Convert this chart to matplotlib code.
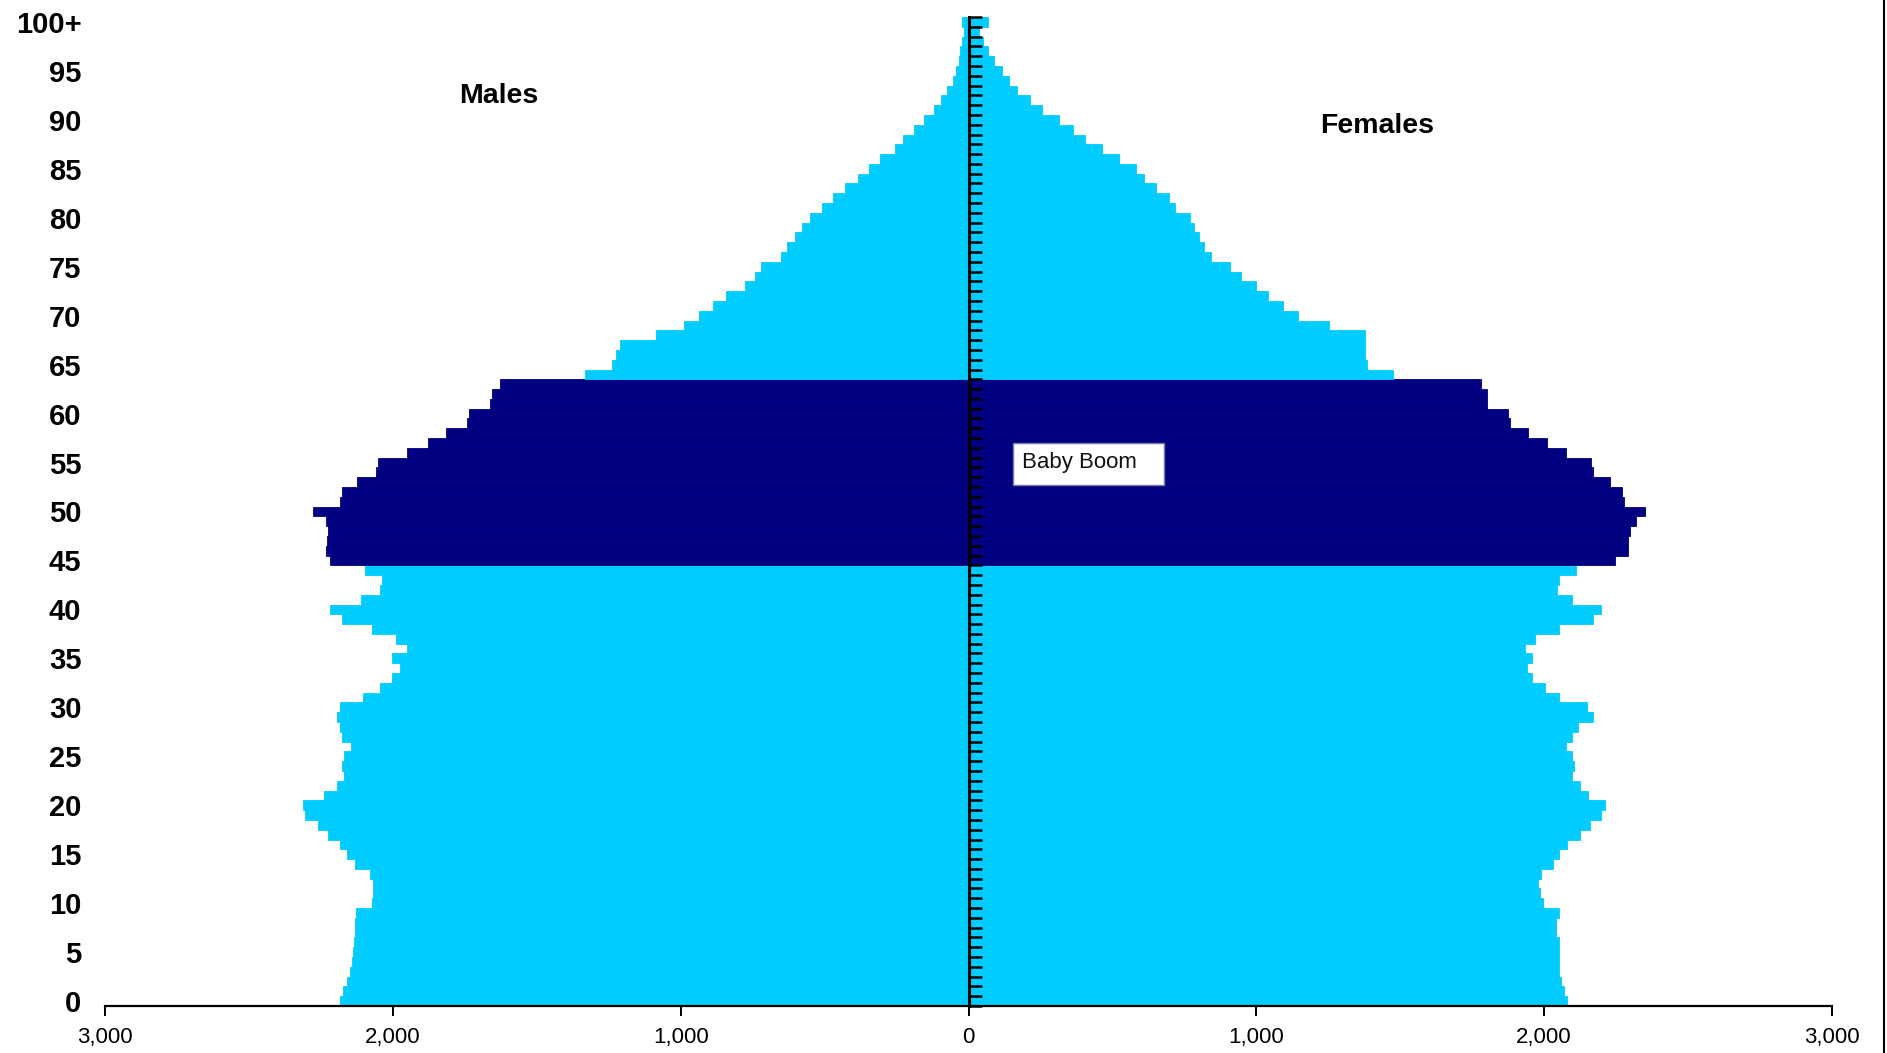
import matplotlib
matplotlib.use("Agg")
import matplotlib.pyplot as plt
from matplotlib.lines import Line2D
from matplotlib.patches import Rectangle

ages = list(range(0, 101))
males = [2182, 2172, 2160, 2149, 2142, 2139, 2136, 2132, 2131, 2129,
         2074, 2068, 2068, 2079, 2132, 2160, 2182, 2225, 2260, 2306,
         2311, 2240, 2195, 2169, 2175, 2169, 2147, 2175, 2182, 2195,
         2182, 2103, 2046, 2002, 1975, 2002, 1952, 1988, 2074, 2175,
         2217, 2109, 2046, 2038, 2096, 2220, 2232, 2228, 2225, 2232,
         2276, 2182, 2175, 2124, 2060, 2053, 1952, 1879, 1815, 1744,
         1735, 1664, 1656, 1628, 1333, 1239, 1224, 1211, 1087, 988,
         936, 887, 844, 777, 743, 722, 653, 631, 604, 580,
         551, 509, 471, 429, 385, 347, 308, 257, 226, 190,
         155, 119, 95, 73, 55, 44, 33, 29, 22, 15, 22]
females = [2081, 2070, 2060, 2051, 2051, 2051, 2051, 2040, 2040, 2051,
           1997, 1987, 1977, 1990, 2032, 2053, 2081, 2123, 2159, 2197,
           2211, 2153, 2123, 2096, 2103, 2096, 2076, 2096, 2119, 2168,
           2148, 2053, 2003, 1959, 1939, 1959, 1932, 1967, 2053, 2168,
           2197, 2096, 2046, 2051, 2111, 2247, 2290, 2290, 2297, 2319,
           2350, 2277, 2272, 2227, 2169, 2163, 2076, 2010, 1945, 1882,
           1874, 1802, 1802, 1779, 1476, 1384, 1376, 1376, 1376, 1252,
           1144, 1094, 1042, 998, 945, 910, 844, 819, 800, 785,
           768, 716, 697, 651, 611, 582, 523, 465, 406, 362,
           314, 257, 214, 170, 142, 117, 90, 67, 50, 38, 67]
boom_ages = (45, 63)
age_tick_labels = ["0", "5", "10", "15", "20", "25", "30", "35", "40", "45",
                   "50", "55", "60", "65", "70", "75", "80", "85", "90", "95", "100+"]
x_ticks = [-3000, -2000, -1000, 0, 1000, 2000, 3000]
x_tick_labels = ["3,000", "2,000", "1,000", "0", "1,000", "2,000", "3,000"]

LIGHT = "#00CCFF"
NAVY = "#000080"
FONT = "Liberation Sans"

fig = plt.figure(figsize=(18.87, 10.53), dpi=100)
ax = fig.add_axes([105/1887, 1 - 1006/1053, (1832 - 105)/1887, (1006 - 17)/1053])

colors = [NAVY if boom_ages[0] <= a <= boom_ages[1] else LIGHT for a in ages]
ax.barh(ages, [-m for m in males], height=1.0, color=colors, edgecolor=colors, linewidth=0.6)
ax.barh(ages, females, height=1.0, color=colors, edgecolor=colors, linewidth=0.6)

ax.set_xlim(-3000, 3000)
ax.set_ylim(-0.5, 100.5)

# bottom axis
for s in ["top", "right"]:
    ax.spines[s].set_visible(False)
ax.spines["bottom"].set_linewidth(1.6)
ax.set_xticks(x_ticks)
ax.set_xticklabels(x_tick_labels, fontsize=16, family=FONT)
ax.tick_params(axis="x", direction="out", length=7, width=1.4, pad=8)

# center vertical axis with tick marks at each age boundary
ax.spines["left"].set_position(("data", 0))
ax.spines["left"].set_linewidth(2.2)
ax.spines["left"].set_zorder(5)
ax.set_yticks([a - 0.5 for a in ages] + [100.5])
ax.tick_params(axis="y", direction="in", length=9, width=1.8, labelleft=False)

# age labels on the far left
sec = ax.secondary_yaxis(0.0)
sec.set_yticks(list(range(0, 101, 5)))
sec.set_yticklabels(age_tick_labels, fontsize=21, fontweight="bold", family=FONT)
sec.tick_params(length=0, pad=17)
sec.spines["left"].set_visible(False)

ax.text(-1631, 92.4, "Males", fontsize=20.5, fontweight="bold", family=FONT,
        ha="center", va="center")
ax.text(1419, 89.4, "Females", fontsize=20.5, fontweight="bold", family=FONT,
        ha="center", va="center")

ax.add_patch(Rectangle((155, 52.7), 524, 4.3, facecolor="white", edgecolor="#7777aa",
                       linewidth=1.0, zorder=6))
ax.text(185, 55.0, "Baby Boom", fontsize=16, family=FONT, color="#111111",
        ha="left", va="center", zorder=7)

fig.add_artist(Line2D([0.9985, 0.9985], [0, 1], transform=fig.transFigure, color="black", linewidth=1.5))

fig.savefig("out.png", dpi=100)
